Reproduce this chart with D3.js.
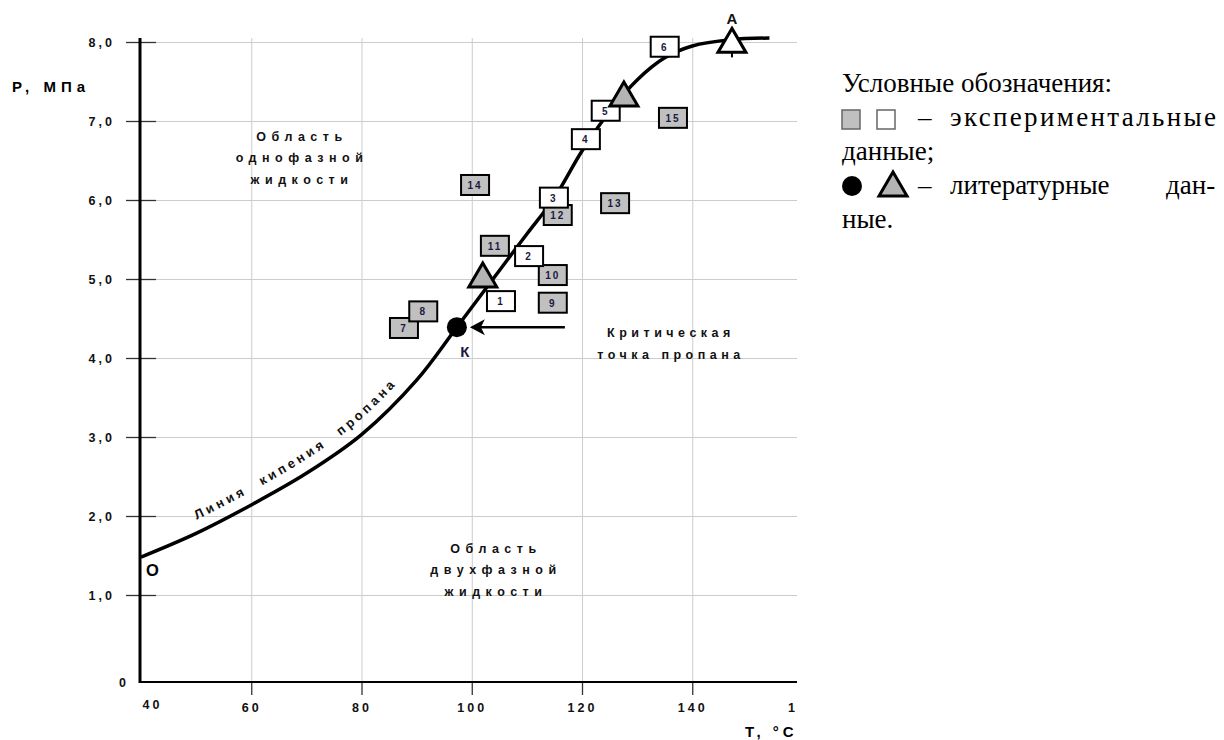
<!DOCTYPE html>
<html>
<head>
<meta charset="utf-8">
<script src="https://cdn.jsdelivr.net/npm/d3@7"></script>
<style>
  body { margin: 0; background: #fff; }
  text { font-family: "Liberation Sans", Arial, sans-serif; }
</style>
</head>
<body>
<div id="chart"></div>
<script>
// boiling line of propane (T, °C -> P, MPa)
const curveT = [40, 50, 60, 70, 80, 90, 97.3, 106, 110, 115, 120, 125, 130, 135, 140, 147, 154];
const curveP = [1.48, 1.78, 2.14, 2.54, 3.03, 3.72, 4.39, 5.2, 5.57, 6.03, 6.62, 7.12, 7.52, 7.8, 7.95, 8.03, 8.05];

// experimental points (boxes)
const expLabels = ["1", "2", "3", "4", "5", "6", "7", "8", "9", "10", "11", "12", "13", "14", "15"];
const expT = [105.3, 110.4, 114.9, 120.7, 124.3, 135.0, 87.7, 91.2, 114.7, 114.7, 104.2, 115.6, 126.0, 100.6, 136.5];
const expP = [4.72, 5.29, 6.03, 6.77, 7.13, 7.94, 4.38, 4.59, 4.70, 5.05, 5.42, 5.81, 5.96, 6.19, 7.04];
const expOnLine = [true, true, true, true, true, true, false, false, false, false, false, false, false, false, false];

// literature points
const criticalT = 97.3, criticalP = 4.39;
const triT = [102.0, 127.6, 147.2];
const triP = [5.0, 7.29, 7.97];
const triFill = ["#b4b4b4", "#b4b4b4", "#ffffff"];

// axes
const xTicks = [40, 60, 80, 100, 120, 140, 160];
const yTicks = [0, 1, 2, 3, 4, 5, 6, 7, 8];

const svg = d3.select("#chart").append("svg")
    .attr("width", 1224)
    .attr("height", 740);

const plot = { left: 141, right: 797, top: 38, bottom: 682 };

const x = d3.scaleLinear().domain([40, 159]).range([plot.left, plot.right]);
const y = d3.scaleLinear().domain([0, 1, 8]).range([plot.bottom, 595, 42]);

// grid
svg.append("g")
    .attr("transform", `translate(0, ${plot.bottom})`)
    .call(d3.axisBottom(x).tickValues([60, 80, 100, 120, 140]).tickSize(-(plot.bottom - plot.top)).tickFormat(""))
    .call(g => g.select(".domain").remove())
    .call(g => g.selectAll("line").attr("stroke", "#cccccc"));

svg.append("g")
    .attr("transform", `translate(${plot.left}, 0)`)
    .call(d3.axisRight(y).tickValues(yTicks.slice(1)).tickSize(plot.right - plot.left).tickFormat(""))
    .call(g => g.select(".domain").remove())
    .call(g => g.selectAll("line").attr("stroke", "#cccccc"));

// y axis
const yAxis = svg.append("g")
    .attr("transform", `translate(${plot.left - 1}, 0)`)
    .call(d3.axisLeft(y).tickValues(yTicks).tickSize(14).tickPadding(11)
        .tickFormat(d => d === 0 ? "0" : d3.format(".1f")(d).replace(".", ",")));
yAxis.select(".domain").remove();
yAxis.selectAll("line").attr("x2", -14).attr("x1", 16).attr("stroke", "#333").attr("stroke-width", 1.3);
yAxis.selectAll(".tick").filter(d => d === 0).select("line").remove();
yAxis.selectAll("text")
    .attr("font-size", 12.5).attr("font-weight", "bold")
    .attr("letter-spacing", 3).attr("fill", "#111");
yAxis.selectAll(".tick").filter(d => d === 0).select("text")
    .attr("x", -16).attr("text-anchor", "middle");

svg.append("line")
    .attr("x1", plot.left - 1).attr("x2", plot.left - 1)
    .attr("y1", plot.top).attr("y2", plot.bottom + 1)
    .attr("stroke", "#000").attr("stroke-width", 3);

// x axis
svg.append("clipPath").attr("id", "xclip")
    .append("rect").attr("x", 0).attr("y", 0).attr("width", plot.right).attr("height", 740);

const xAxis = svg.append("g")
    .attr("transform", `translate(0, ${plot.bottom})`)
    .attr("clip-path", "url(#xclip)")
    .call(d3.axisBottom(x).tickValues(xTicks).tickSize(13).tickPadding(8));
xAxis.select(".domain").remove();
xAxis.selectAll("line").attr("y1", -7).attr("stroke", "#333").attr("stroke-width", 1.3);
xAxis.selectAll(".tick").filter(d => d === 40).select("line").remove();
xAxis.selectAll("text")
    .attr("font-size", 12.5).attr("font-weight", "bold")
    .attr("letter-spacing", 3).attr("fill", "#111");
xAxis.selectAll(".tick").filter(d => d === 40).select("text").attr("x", 11).attr("dy", "0.45em");

svg.append("line")
    .attr("x1", plot.left - 1).attr("x2", plot.right)
    .attr("y1", plot.bottom).attr("y2", plot.bottom)
    .attr("stroke", "#000").attr("stroke-width", 2);

svg.append("text")
    .attr("x", 12).attr("y", 92)
    .attr("font-size", 15).attr("font-weight", "bold").attr("letter-spacing", 5)
    .text("P, МПа");

svg.append("text")
    .attr("x", 745).attr("y", 737)
    .attr("font-size", 15).attr("font-weight", "bold").attr("letter-spacing", 4)
    .text("T, °C");

// region labels
const bold = (sel, size, spacing) => sel.attr("font-size", size).attr("font-weight", "bold")
    .attr("letter-spacing", spacing).attr("fill", "#111");

const region1 = svg.append("text").attr("text-anchor", "middle");
bold(region1, 12.5, 5.5);
[["Область", 141], ["однофазной", 162], ["жидкости", 184]].forEach(([t, yy]) =>
    region1.append("tspan").attr("x", 302).attr("y", yy).text(t));

const region2 = svg.append("text").attr("text-anchor", "middle");
bold(region2, 12.5, 5.5);
[["Область", 553], ["двухфазной", 574], ["жидкости", 596]].forEach(([t, yy]) =>
    region2.append("tspan").attr("x", 496).attr("y", yy).text(t));

const crit = svg.append("text").attr("text-anchor", "middle");
bold(crit, 12.5, 4.5);
[["Критическая", 337], ["точка пропана", 359]].forEach(([t, yy]) =>
    crit.append("tspan").attr("x", 671).attr("y", yy).text(t));

// boiling line
const curveData = curveT.map((t, i) => ({T: t, P: curveP[i]}));

const line = d3.line()
    .x(d => x(d.T))
    .y(d => y(d.P))
    .curve(d3.curveCatmullRom);

svg.append("path")
    .datum(curveData)
    .attr("fill", "none")
    .attr("stroke", "#000")
    .attr("stroke-width", 3.5)
    .attr("d", line);

// label along the line, on a path shifted along the normal
const px = curveData.filter(d => d.T <= 106).map(d => [x(d.T), y(d.P)]);
const shifted = px.map((p, i) => {
    const a = px[Math.max(i - 1, 0)], b = px[Math.min(i + 1, px.length - 1)];
    const tx = b[0] - a[0], ty = b[1] - a[1], len = Math.hypot(tx, ty);
    return [p[0] + 12 * ty / len, p[1] - 12 * tx / len];
});

svg.append("path")
    .attr("id", "labelPath")
    .attr("fill", "none")
    .attr("d", d3.line().curve(d3.curveCatmullRom)(shifted));

const curveLabel = svg.append("text");
bold(curveLabel, 13, 3.4).attr("word-spacing", 9);
curveLabel.append("textPath")
    .attr("href", "#labelPath")
    .attr("startOffset", 66)
    .text("Линия кипения пропана");

svg.append("text")
    .attr("x", 146).attr("y", 576)
    .attr("font-size", 16.5).attr("font-weight", "bold")
    .text("O");

// experimental boxes: grey first, then the ones on the line
const expData = expLabels.map((l, i) => ({label: l, T: expT[i], P: expP[i], onLine: expOnLine[i]}));
const boxW = 28, boxH = 20;

const boxes = svg.selectAll(".box")
    .data(expData.filter(d => !d.onLine).concat(expData.filter(d => d.onLine)))
    .enter().append("g")
    .attr("class", "box")
    .attr("transform", d => `translate(${x(d.T)}, ${y(d.P)})`);

boxes.append("rect")
    .attr("x", -boxW / 2).attr("y", -boxH / 2)
    .attr("width", boxW).attr("height", boxH)
    .attr("fill", d => d.onLine ? "#ffffff" : "#c0c0c0")
    .attr("stroke", "#000").attr("stroke-width", 2);

boxes.append("text")
    .attr("text-anchor", "middle")
    .attr("y", 4)
    .attr("font-size", 10).attr("font-weight", "bold")
    .attr("letter-spacing", 2).attr("fill", "#1a1a40")
    .text(d => d.label);

// literature triangles
const triData = triT.map((t, i) => ({T: t, P: triP[i], fill: triFill[i]}));
svg.selectAll(".tri")
    .data(triData)
    .enter().append("path")
    .attr("class", "tri")
    .attr("transform", d => `translate(${x(d.T)}, ${y(d.P)})`)
    .attr("d", "M0,-16 L14,8 L-14,8 Z")
    .attr("fill", d => d.fill)
    .attr("stroke", "#000").attr("stroke-width", 3).attr("stroke-linejoin", "miter");

svg.append("line")
    .attr("x1", x(triT[2])).attr("x2", x(triT[2]))
    .attr("y1", y(triP[2]) + 8).attr("y2", y(triP[2]) + 13)
    .attr("stroke", "#000").attr("stroke-width", 2);
svg.append("text")
    .attr("x", x(triT[2])).attr("y", y(triP[2]) - 20)
    .attr("text-anchor", "middle")
    .attr("font-size", 15).attr("font-weight", "bold").attr("fill", "#111")
    .text("A");

// critical point
const kx = x(criticalT), ky = y(criticalP);
svg.append("circle")
    .attr("cx", kx).attr("cy", ky).attr("r", 10)
    .attr("fill", "#000");
svg.append("text")
    .attr("x", kx + 8).attr("y", ky + 30)
    .attr("text-anchor", "middle")
    .attr("font-size", 15).attr("font-weight", "bold").attr("fill", "#1a1a40")
    .text("К");

svg.append("line")
    .attr("x1", kx + 20).attr("x2", kx + 108)
    .attr("y1", ky).attr("y2", ky)
    .attr("stroke", "#000").attr("stroke-width", 2.5);
svg.append("path")
    .attr("d", `M${kx + 13},${ky} L${kx + 28},${ky - 8} L${kx + 24},${ky} L${kx + 28},${ky + 8} Z`)
    .attr("fill", "#000");

// legend
const legend = svg.append("g")
    .attr("font-size", 27)
    .attr("fill", "#000");

const serif = (t, xx, yy) => legend.append("text")
    .attr("x", xx).attr("y", yy)
    .style("font-family", "'Liberation Serif', 'Times New Roman', serif")
    .text(t);

serif("Условные обозначения:", 842, 92);
legend.append("rect").attr("x", 842).attr("y", 110).attr("width", 18).attr("height", 19)
    .attr("fill", "#c0c0c0").attr("stroke", "#666").attr("stroke-width", 1.5);
legend.append("rect").attr("x", 877).attr("y", 110).attr("width", 18).attr("height", 19)
    .attr("fill", "#fff").attr("stroke", "#666").attr("stroke-width", 1.5);
serif("–", 918, 126);
serif("экспериментальные", 950, 126)
    .attr("textLength", 266).attr("lengthAdjust", "spacing");
serif("данные;", 842, 160);
legend.append("circle").attr("cx", 852).attr("cy", 186).attr("r", 10).attr("fill", "#000");
legend.append("path").attr("d", "M893,172 L907,196 L879,196 Z")
    .attr("fill", "#b4b4b4").attr("stroke", "#000").attr("stroke-width", 3);
serif("–", 918, 194);
serif("литературные", 950, 194);
serif("дан-", 1166, 194);
serif("ные.", 842, 228);
</script>
</body>
</html>
